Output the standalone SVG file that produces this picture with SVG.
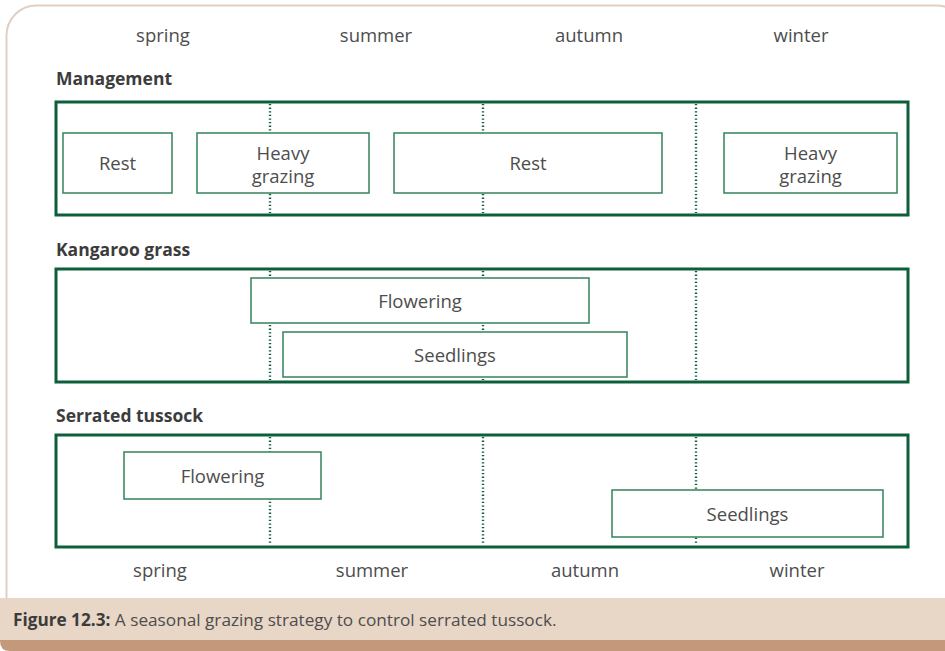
<svg xmlns="http://www.w3.org/2000/svg" width="945" height="651" viewBox="0 0 945 651">
<style>
  .t{font-family:"Open Sans","Noto Sans","Liberation Sans",sans-serif;fill:#4d4d4d;font-size:18.5px}
  .c{text-anchor:middle}
  .h{font-weight:bold;fill:#3c3c3c;font-size:17.5px}
  .frame{fill:#fff;stroke:#0f5e3a;stroke-width:3}
  .box{fill:#fff;stroke:#3f8a63;stroke-width:1.6}
  .dot{stroke:#0f5e3a;stroke-width:2.4;stroke-dasharray:1.3 2.3;fill:none}
</style>
<rect x="0" y="0" width="945" height="651" fill="#fff"/>
<!-- panel -->
<rect x="6.5" y="5.5" width="960" height="640" rx="30" ry="30" fill="#fff" stroke="#e2cfc3" stroke-width="2"/>
<path d="M0 640 H945 V651 H10 Q0 651 0 641 Z" fill="#c4987a"/>
<rect x="0" y="598" width="945" height="42" fill="#e8d6c7"/>

<!-- season labels top -->
<g id="seasons-top">
  <text class="t c" x="163" y="42">spring</text>
  <text class="t c" x="376" y="42">summer</text>
  <text class="t c" x="589" y="42">autumn</text>
  <text class="t c" x="801" y="42">winter</text>
</g>

<g id="management">
  <text class="t h" x="56" y="85">Management</text>
  <rect class="frame" x="56" y="102" width="852" height="113"/>
</g>
<g id="kangaroo">
  <text class="t h" x="56" y="256">Kangaroo grass</text>
  <rect class="frame" x="56" y="269" width="852" height="113"/>
</g>
<g id="serrated">
  <text class="t h" x="56" y="422">Serrated tussock</text>
  <rect class="frame" x="56" y="435" width="852" height="112"/>
</g>

<g id="connectors">
  <line class="dot" x1="270" y1="104" x2="270" y2="213"/>
  <line class="dot" x1="483" y1="104" x2="483" y2="213"/>
  <line class="dot" x1="696" y1="104" x2="696" y2="213"/>
  <line class="dot" x1="270" y1="271" x2="270" y2="380"/>
  <line class="dot" x1="483" y1="271" x2="483" y2="380"/>
  <line class="dot" x1="696" y1="271" x2="696" y2="380"/>
  <line class="dot" x1="270" y1="437" x2="270" y2="545"/>
  <line class="dot" x1="483" y1="437" x2="483" y2="545"/>
  <line class="dot" x1="696" y1="437" x2="696" y2="545"/>
</g>

<g id="m-rest1">
  <rect class="box" x="63" y="133" width="109" height="60"/>
  <text class="t c" x="117.5" y="170">Rest</text>
</g>
<g id="m-heavy1">
  <rect class="box" x="197" y="133" width="172" height="60"/>
  <text class="t c" x="283" y="160">Heavy</text>
  <text class="t c" x="283" y="183">grazing</text>
</g>
<g id="m-rest2">
  <rect class="box" x="394" y="133" width="268" height="60"/>
  <text class="t c" x="528" y="170">Rest</text>
</g>
<g id="m-heavy2">
  <rect class="box" x="724" y="133" width="173" height="60"/>
  <text class="t c" x="810.5" y="160">Heavy</text>
  <text class="t c" x="810.5" y="183">grazing</text>
</g>

<g id="k-flowering">
  <rect class="box" x="251" y="278" width="338" height="45"/>
  <text class="t c" x="420" y="308">Flowering</text>
</g>
<g id="k-seedlings">
  <rect class="box" x="283" y="332" width="344" height="45"/>
  <text class="t c" x="455" y="362">Seedlings</text>
</g>

<g id="s-flowering">
  <rect class="box" x="124" y="452" width="197" height="47"/>
  <text class="t c" x="222.5" y="483">Flowering</text>
</g>
<g id="s-seedlings">
  <rect class="box" x="612" y="490" width="271" height="47"/>
  <text class="t c" x="747.5" y="521">Seedlings</text>
</g>

<g id="seasons-bottom">
  <text class="t c" x="160" y="577">spring</text>
  <text class="t c" x="372" y="577">summer</text>
  <text class="t c" x="585" y="577">autumn</text>
  <text class="t c" x="797" y="577">winter</text>
</g>

<g id="caption">
  <text class="t" x="13" y="626" style="font-size:17.2px"><tspan font-weight="bold" fill="#3c3c3c">Figure 12.3:</tspan> A seasonal grazing strategy to control serrated tussock.</text>
</g>
</svg>
